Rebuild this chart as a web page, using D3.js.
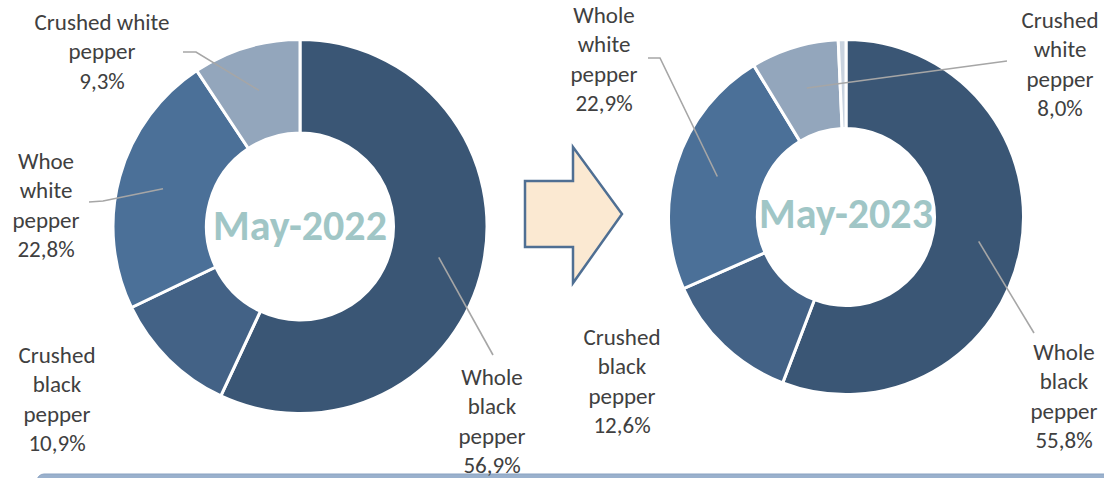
<!DOCTYPE html>
<html>
<head>
<meta charset="utf-8">
<script src="https://cdn.jsdelivr.net/npm/d3@7"></script>
<style>
  html, body { margin: 0; padding: 0; background: #ffffff; }
  svg { display: block; }
  text { font-family: Carlito, Calibri, Lato, "Open Sans", sans-serif; }
</style>
</head>
<body>
<svg id="chart" width="1104" height="478"></svg>
<script>
// Pepper product mix, share of volume (%)
const categories = ["Whole black pepper", "Crushed black pepper", "Whole white pepper", "Crushed white pepper", "Other"];
const values2022 = [56.9, 10.9, 22.8, 9.3, 0];
const values2023 = [55.8, 12.6, 22.9, 8.0, 0.7];
const periods = ["May-2022", "May-2023"];

// Label text lines per slice (null = no label)
const labelLines2022 = [
  ["Whole", "black", "pepper", "56,9%"],
  ["Crushed", "black", "pepper", "10,9%"],
  ["Whoe", "white", "pepper", "22,8%"],
  ["Crushed white", "pepper", "9,3%"],
  null
];
const labelLines2023 = [
  ["Whole", "black", "pepper", "55,8%"],
  ["Crushed", "black", "pepper", "12,6%"],
  ["Whole", "white", "pepper", "22,9%"],
  ["Crushed", "white", "pepper", "8,0%"],
  null
];

// Slice colours
const colors = ["#3a5675", "#436286", "#4b7098", "#93a6bc", "#c9d3df"];

// Layout: donut geometry, label anchors and leader start points
const layouts = [
  {
    cx: 300, cy: 226.5, outer: 187, inner: 93.5, titleY: 225,
    labels: [
      { x: 492, y: 377, leader: [[493, 355]] },
      { x: 57, y: 355, leader: null },
      { x: 46, y: 161, leader: [[89, 202], [103, 201]] },
      { x: 102, y: 22, leader: [[183, 52], [196, 52]] },
      null
    ]
  },
  {
    cx: 846, cy: 217, outer: 177.5, inner: 88.5, titleY: 213,
    labels: [
      { x: 1064, y: 352, leader: [[1034, 333]] },
      { x: 622, y: 337, leader: null },
      { x: 604, y: 15, leader: [[648, 58], [660, 58]] },
      { x: 1060, y: 20, leader: [[1007, 61]] },
      null
    ]
  }
];

const svg = d3.select("#chart");
const lineH = 29.3;

// Bottom banner strip
svg.append("rect")
  .attr("x", 37).attr("y", 474)
  .attr("width", 1100).attr("height", 30)
  .attr("rx", 7)
  .attr("fill", "#9ab1cd")
  .attr("stroke", "#8aa3c2")
  .attr("stroke-width", 1);

const pie = d3.pie().sort(null).value(d => d.value);

function drawDonut(values, lines, layout, title) {
  const data = categories.map((c, i) => ({ cat: c, value: values[i], color: colors[i], lines: lines[i], lab: layout.labels[i] }));
  const arcs = pie(data);
  const arc = d3.arc().innerRadius(layout.inner).outerRadius(layout.outer);
  const g = svg.append("g").attr("transform", `translate(${layout.cx},${layout.cy})`);

  g.selectAll("path.slice")
    .data(arcs.filter(a => a.data.value > 0))
    .join("path")
    .attr("class", "slice")
    .attr("d", arc)
    .attr("fill", d => d.data.color)
    .attr("stroke", "#ffffff")
    .attr("stroke-width", 3)
    .attr("stroke-linejoin", "miter");

  // Centre title
  svg.append("text")
    .attr("x", layout.cx)
    .attr("y", layout.titleY)
    .attr("text-anchor", "middle")
    .attr("dominant-baseline", "central")
    .attr("font-weight", "bold")
    .attr("font-size", 42)
    .attr("fill", "#a0c6c6")
    .text(title);

  // Leader lines: from label to the slice's mid-angle point
  const leaderR = layout.outer * 0.76;
  arcs.forEach(a => {
    const lab = a.data.lab;
    if (!lab || !lab.leader) return;
    const mid = (a.startAngle + a.endAngle) / 2;
    const end = [layout.cx + leaderR * Math.sin(mid), layout.cy - leaderR * Math.cos(mid)];
    const pts = lab.leader.concat([end]);
    svg.append("path")
      .attr("d", d3.line()(pts))
      .attr("fill", "none")
      .attr("stroke", "#a6a6a6")
      .attr("stroke-width", 1.6);
  });

  // Slice labels
  arcs.forEach(a => {
    const lab = a.data.lab;
    if (!lab || !a.data.lines) return;
    const t = svg.append("text")
      .attr("text-anchor", "middle")
      .attr("font-size", 23)
      .attr("fill", "#404040");
    a.data.lines.forEach((ln, k) => {
      t.append("tspan")
        .attr("x", lab.x)
        .attr("y", lab.y + k * lineH)
        .attr("dominant-baseline", "central")
        .text(ln);
    });
  });
}

drawDonut(values2022, labelLines2022, layouts[0], periods[0]);
drawDonut(values2023, labelLines2023, layouts[1], periods[1]);

// Transition arrow between the two periods
const arrowPts = [[525, 181], [573, 181], [573, 147], [622, 214], [573, 283], [573, 247], [525, 247]];
svg.append("path")
  .attr("d", d3.line()(arrowPts) + "Z")
  .attr("fill", "#fbe9d2")
  .attr("stroke", "#4f6f93")
  .attr("stroke-width", 2.5)
  .attr("stroke-linejoin", "miter");
</script>
</body>
</html>
